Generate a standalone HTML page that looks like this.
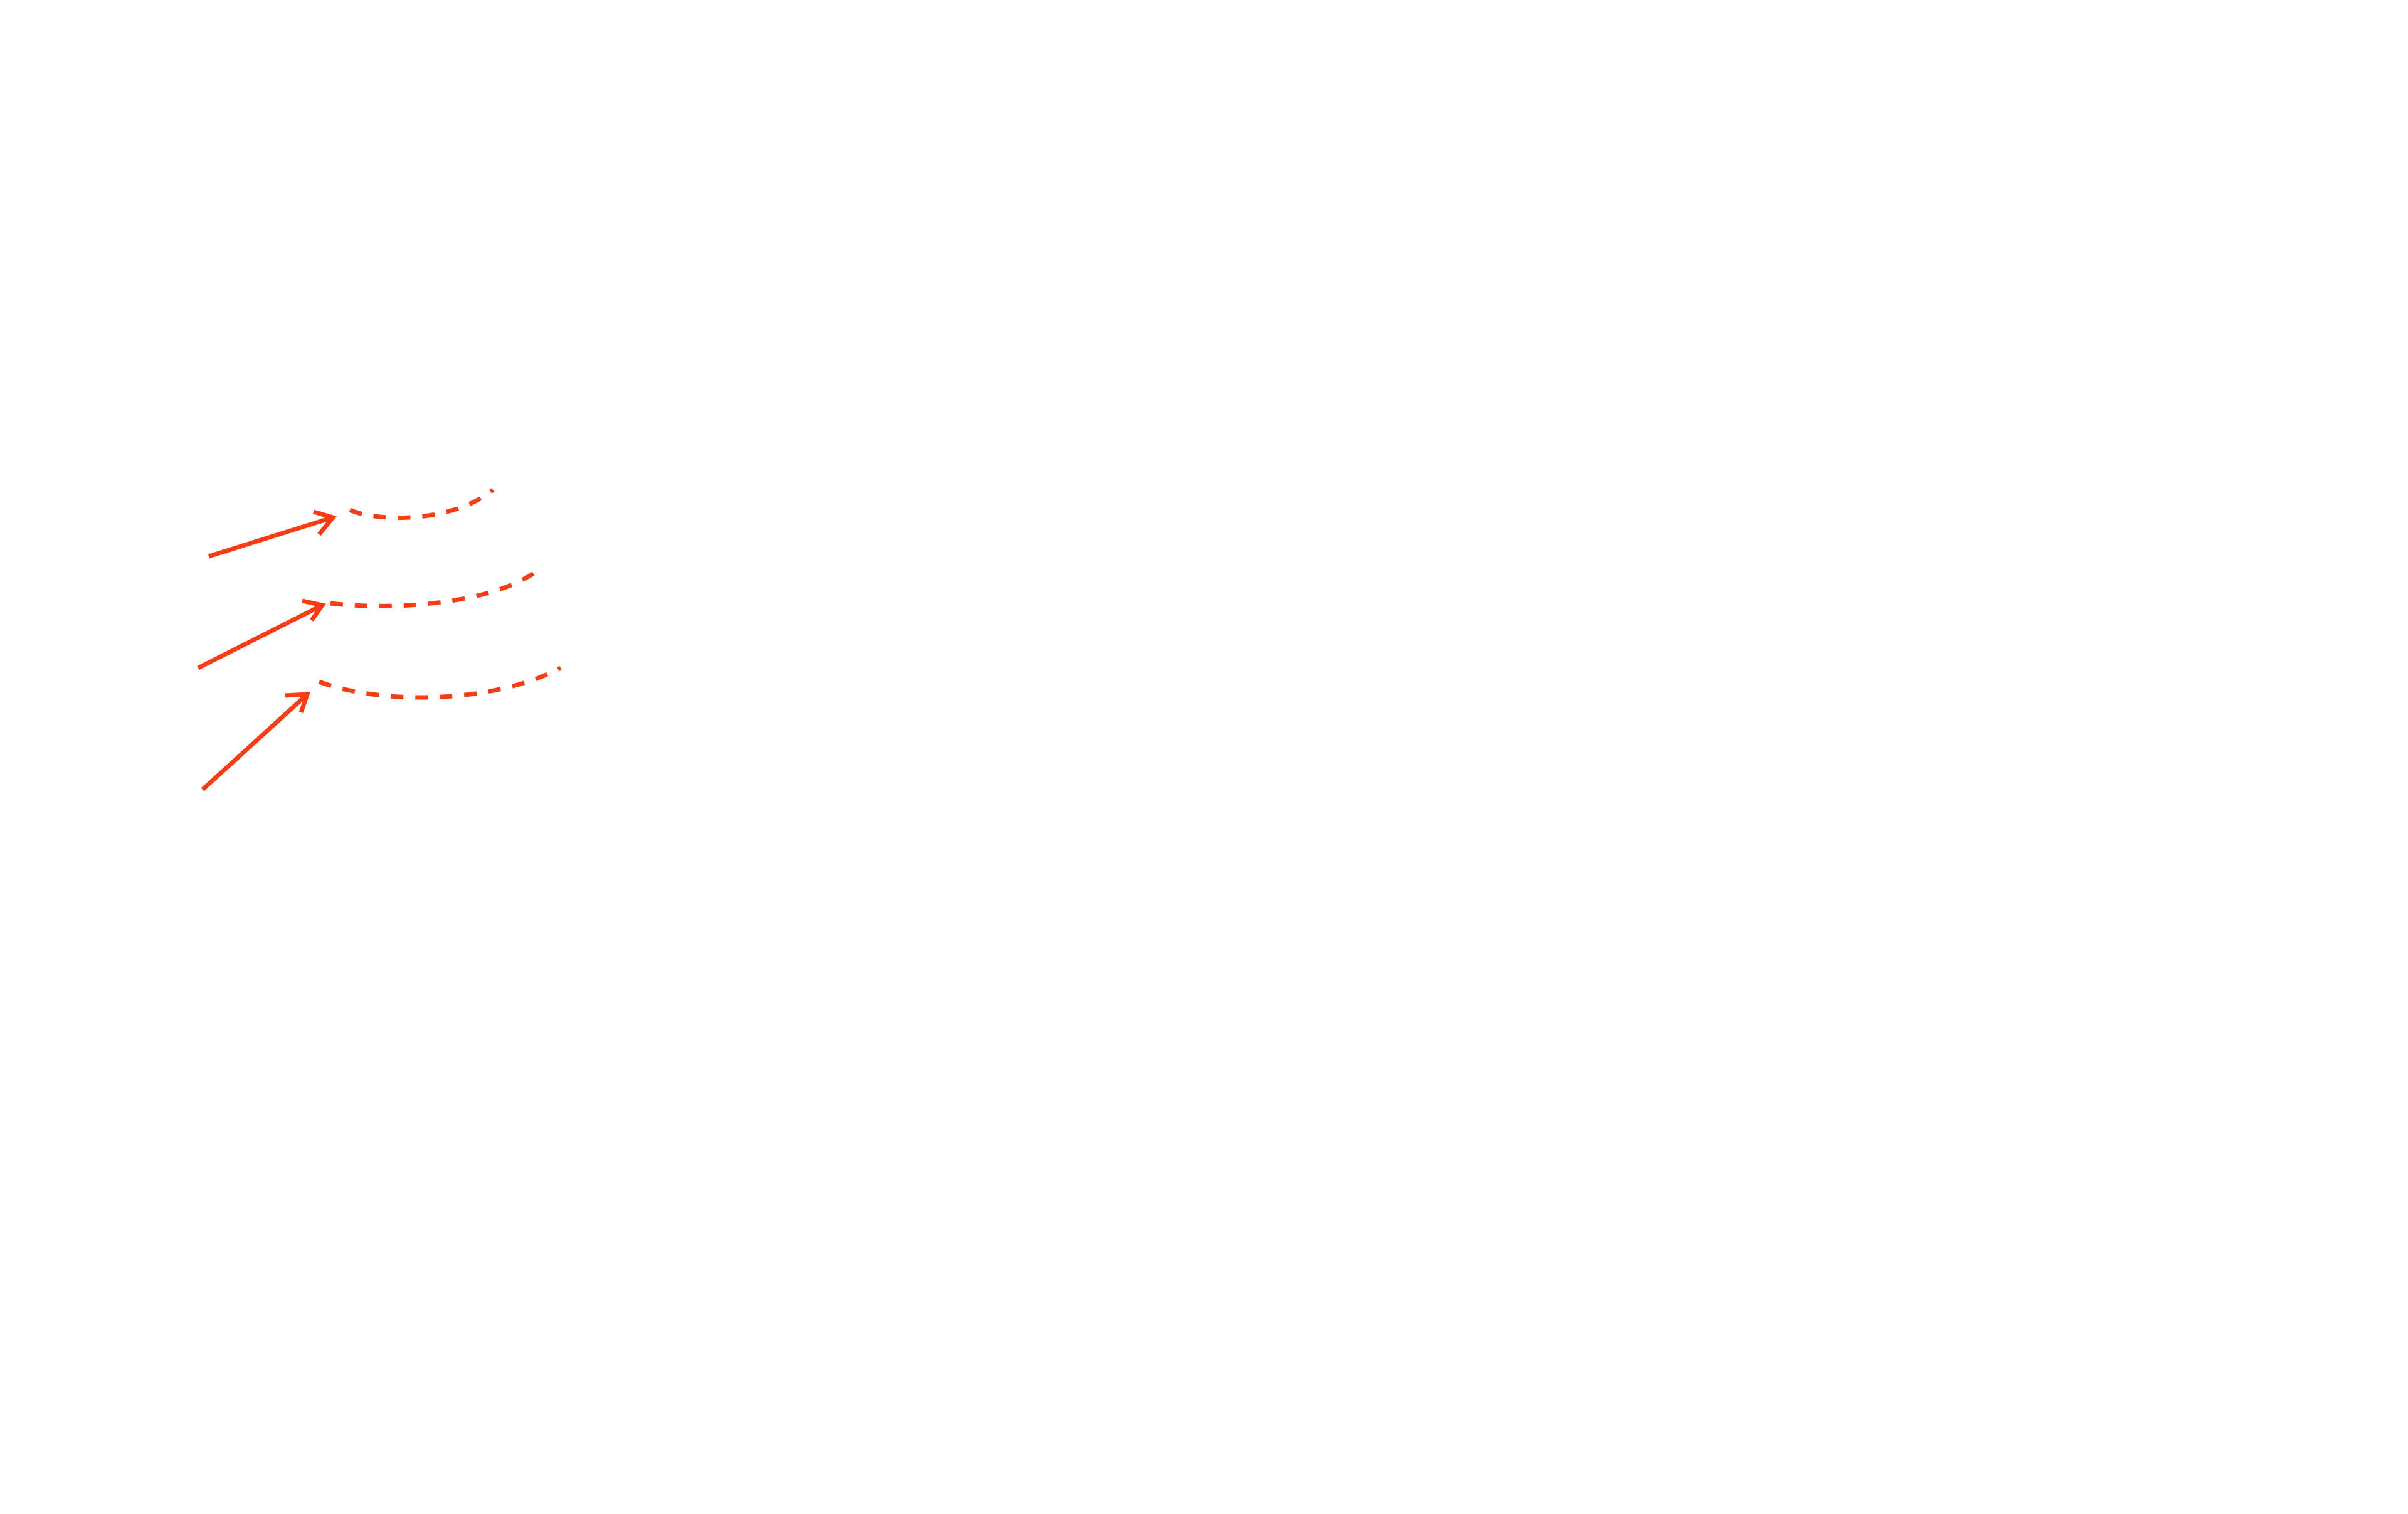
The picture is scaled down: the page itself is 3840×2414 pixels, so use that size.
<!DOCTYPE html>
<html><head><meta charset="utf-8"><style>html,body{margin:0;padding:0;background:#fff}svg{display:block}</style></head>
<body>
<svg width="3840" height="2414" viewBox="0 0 3840 2414" xmlns="http://www.w3.org/2000/svg">
<g fill="none" stroke="#F83C14" stroke-width="7">
<line x1="333" y1="887" x2="531" y2="825"/>
<polyline points="500,816 531,825 509,852"/>
<line x1="316" y1="1065" x2="514" y2="965"/>
<polyline points="482,958 514,965 497,989"/>
<line x1="323" y1="1259" x2="490" y2="1107"/>
<polyline points="455,1109 490,1107 480,1136"/>
<g stroke-dasharray="20,19">
<path d="M558 813 C600 832 720 835 786 781"/>
<path d="M527 962 C640 975 800 960 864 904"/>
<path d="M509 1087 C600 1122 780 1125 894 1065"/>
</g>
</g>
</svg>
</body></html>
